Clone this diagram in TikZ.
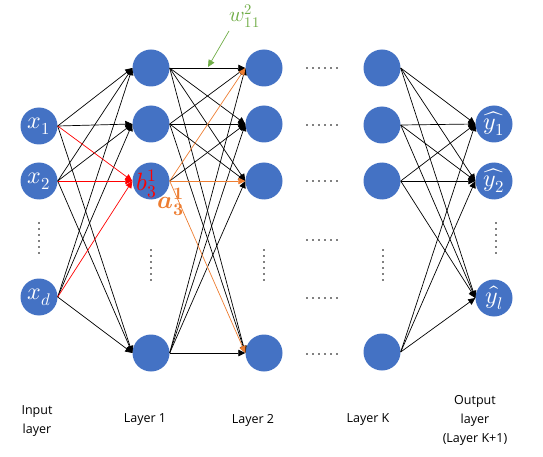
\documentclass[tikz,border=0pt]{standalone}
\usepackage{amsmath}
\usepackage{fontspec}
\usepackage{unicode-math}
\setmainfont{Open Sans}
\setmathfont{Latin Modern Math}
\usetikzlibrary{arrows.meta}
\definecolor{nblue}{HTML}{4472C4}
\definecolor{ored}{HTML}{FF0000}
\definecolor{oorange}{HTML}{ED7D31}
\definecolor{ogreen}{HTML}{70AD47}
\begin{document}
\begin{tikzpicture}[x=1pt,y=-1pt,
  neuron/.style={circle,fill=nblue,minimum size=37pt,inner sep=0pt,text=white,font=\fontsize{24}{24}\selectfont},
  edge/.style={draw=black,line width=0.7pt,-{Triangle[length=7pt,width=6.5pt]}},
  redge/.style={edge,draw=ored,-{Triangle[length=7pt,width=6.5pt,fill=ored]}},
  oedge/.style={edge,draw=oorange,-{Triangle[length=7pt,width=6.5pt,fill=oorange]}},
  lab/.style={font=\fontsize{12.5}{19}\selectfont,align=center},
  mlab/.style={font=\fontsize{25}{25}\selectfont,inner sep=0pt},
  dot/.style={fill=black}]
\useasboundingbox (0,0) rectangle (543,457);
% input layer
\node[neuron] (i1) at (39,126) {$x_1$};
\node[neuron] (i2) at (39,181) {$x_2$};
\node[neuron] (id) at (39,297) {$x_d$};
% layer 1
\node[neuron] (a1) at (151,68) {};
\node[neuron] (a2) at (151,124) {};
\node[neuron] (a3) at (151,181) {};
\node[neuron] (a4) at (151,353) {};
% layer 2
\node[neuron] (b1) at (264,68) {};
\node[neuron] (b2) at (264,124) {};
\node[neuron] (b3) at (264,181) {};
\node[neuron] (b4) at (264,353) {};
% layer K
\node[neuron] (k1) at (382,68) {};
\node[neuron] (k2) at (382,125) {};
\node[neuron] (k3) at (382,181) {};
\node[neuron] (k4) at (382,352) {};
% output
\node[neuron] (o1) at (494,124) {$\widehat{y_1}$};
\node[neuron] (o2) at (494,181) {$\widehat{y_2}$};
\node[neuron] (ol) at (494,298) {$\hat{y_l}$};
% edges input -> layer 1
\foreach \s in {i1,i2,id}{
  \foreach \t in {a1,a2,a4}{\draw[edge] (\s.east) -- (\t.west);}
}
\foreach \s in {i1,i2,id}{\draw[redge] (\s.east) -- (a3.west);}
% edges layer 1 -> layer 2
\foreach \s in {a1,a2,a4}{
  \foreach \t in {b1,b2,b3,b4}{\draw[edge] (\s.east) -- (\t.west);}
}
\draw[edge] (a3.east) -- (b2.west);
\foreach \t in {b1,b3,b4}{\draw[oedge] (a3.east) -- (\t.west);}
% edges layer K -> output
\foreach \s in {k1,k2,k3,k4}{
  \foreach \t in {o1,o2,ol}{\draw[edge] (\s.east) -- (\t.west);}
}
% dots
\foreach \k in {0,...,5}{
  \fill[dot] (39,223+6*\k) circle (0.9);
  \fill[dot] (151,250+6*\k) circle (0.9);
  \fill[dot] (264,250+6*\k) circle (0.9);
  \fill[dot] (383,250+6*\k) circle (0.9);
  \fill[dot] (496,223+6*\k) circle (0.9);
  \foreach \y in {68,125,181,240,298,354}{\fill[dot] (307+6*\k,\y) circle (0.9);}
}
% labels
\node[mlab,text=ored] (bl) at (147,184) {$b_3^1$};
\node[mlab,text=oorange] (al) at (171,202) {$\symbfit{a}_{\symbf{3}}^{\symbf{1}}$};
\node[mlab,text=ogreen,font=\fontsize{21}{21}\selectfont] (wl) at (245,16) {$w_{11}^{2}$};
\coordinate (ws) at (229,31);
\coordinate (we) at (208,67);
\draw[draw=ogreen,line width=0.7pt,-{Triangle[length=7pt,width=6.5pt,fill=ogreen]}] (ws) -- (we);
\node[lab] (t0) at (37,421) {Input\\layer};
\node[lab] (t1) at (145,420) {Layer 1};
\node[lab] (t2) at (253,420) {Layer 2};
\node[lab] (t3) at (368,420) {Layer K};
\node[lab] (t4) at (475,420) {Output\\layer\\(Layer K+1)};
\end{tikzpicture}
\end{document}
